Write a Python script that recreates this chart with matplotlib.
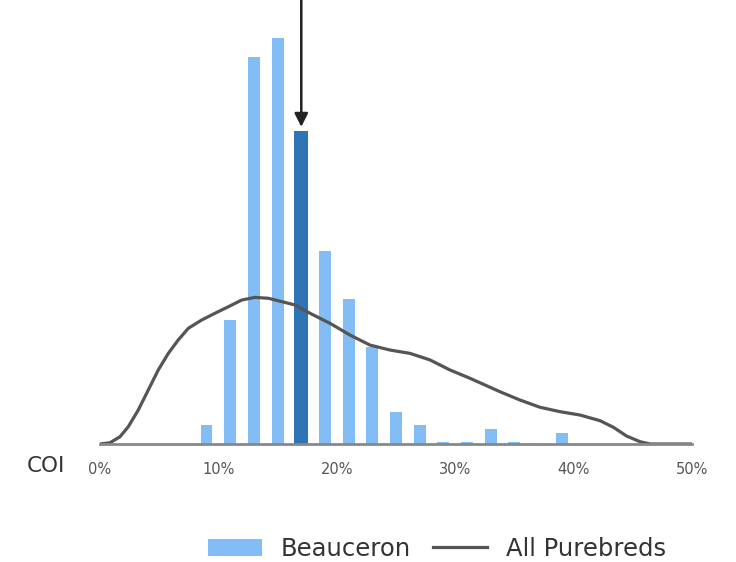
import numpy as np
import matplotlib
matplotlib.use('Agg')
import matplotlib.pyplot as plt
from matplotlib.patches import Patch
from matplotlib.lines import Line2D

# Beauceron COI histogram (share of dogs, % per 2% bin)
bin_centers = [9, 11, 13, 15, 17, 19, 21, 23, 25, 27, 29, 31, 33, 35, 37, 39]
beauceron = [1.1, 7.0, 21.9, 23.0, 17.7, 10.9, 8.2, 5.5, 1.8, 1.1,
             0.14, 0.14, 0.85, 0.14, 0.0, 0.6]
highlight = 17

# All purebreds density curve
pure_x = [0, 0.84, 1.69, 2.39, 3.23, 4.08, 4.92, 5.77, 6.61, 7.46, 8.59,
          9.71, 10.84, 11.97, 13.09, 14.21, 15.35, 16.47, 17.74, 19.43,
          21.11, 22.80, 24.49, 26.18, 27.87, 29.56, 31.25, 33.78, 35.47,
          37.16, 38.85, 40.54, 42.23, 43.35, 44.48, 45.61, 46.45, 50]
pure_y = [0, 0.07, 0.41, 0.98, 1.92, 3.06, 4.19, 5.13, 5.89, 6.55, 7.02,
          7.40, 7.77, 8.15, 8.30, 8.25, 8.06, 7.87, 7.40, 6.83,
          6.17, 5.60, 5.32, 5.13, 4.76, 4.19, 3.72, 2.96, 2.49,
          2.08, 1.83, 1.64, 1.32, 0.95, 0.45, 0.13, 0, 0]

ticks = [0, 10, 20, 30, 40, 50]
tick_labels = ['0%', '10%', '20%', '30%', '40%', '50%']

light = '#82BEF5'
dark = '#2F74B5'
grey = '#555555'

fig = plt.figure(figsize=(7.36, 5.62), dpi=100)
ax = fig.add_axes([100/736, 118/562, 592/736, 444/562])

colors = [dark if c == highlight else light for c in bin_centers]
widths = [1.2 if c == highlight else 1.0 for c in bin_centers]
ax.bar(bin_centers, beauceron, width=widths, color=colors, zorder=2)
ax.plot(pure_x, pure_y, color=grey, lw=2.3, solid_joinstyle='round',
        solid_capstyle='round', zorder=3)

ymax = 444/17.665
ax.set_xlim(0, 50)
ax.set_ylim(0, ymax)

ax.annotate('', xy=(highlight, 17.95), xytext=(highlight, ymax),
            arrowprops=dict(arrowstyle='-|>', color='#222222', lw=1.8,
                            mutation_scale=20, shrinkA=0, shrinkB=0),
            annotation_clip=False)

for s in ['top', 'right', 'left']:
    ax.spines[s].set_visible(False)
ax.spines['bottom'].set_color('#888888')
ax.spines['bottom'].set_linewidth(2)
ax.spines['bottom'].set_zorder(4)
ax.set_yticks([])
ax.set_xticks(ticks)
ax.set_xticklabels(tick_labels, fontsize=10.5, color='#555555')
ax.tick_params(axis='x', length=0, pad=13)

fig.text(46/736, 1 - 466/562, 'COI', fontsize=15.5, color='#333333',
         ha='center', va='center')

handles = [Patch(facecolor=light, edgecolor='none', label='Beauceron'),
           Line2D([0], [0], color=grey, lw=2.3, label='All Purebreds')]
fig.legend(handles=handles, loc='center', bbox_to_anchor=(0.594, 1 - 549/562),
           ncol=2, frameon=False, fontsize=17.5, handlelength=2.2,
           handleheight=0.75, handletextpad=0.8, columnspacing=0.9,
           labelcolor='#333333')

fig.savefig('out.png', dpi=100)
